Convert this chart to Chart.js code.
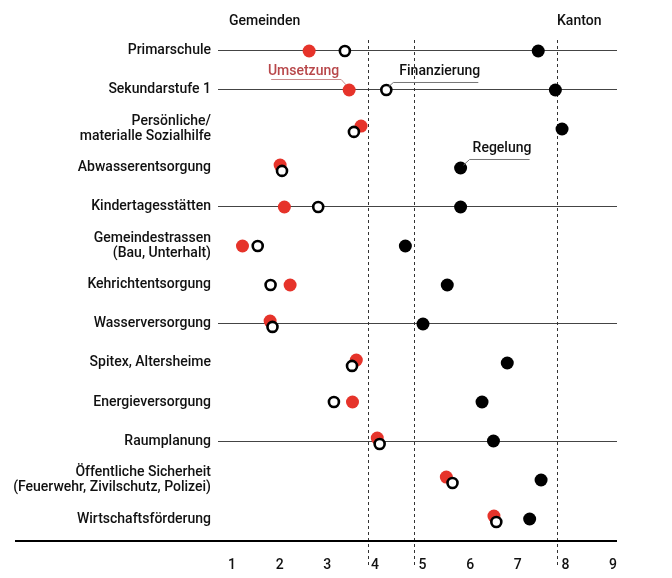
<!DOCTYPE html>
<html>
<head>
<meta charset="utf-8">
<script src="https://cdn.jsdelivr.net/npm/chart.js@4"></script>
<style>
  html, body { margin: 0; padding: 0; background: #fff; }
  #wrap { width: 672px; height: 578px; }
</style>
</head>
<body>
<div id="wrap"><canvas id="chart"></canvas></div>
<script>
// rows, top to bottom
var categories = [
    'Primarschule',
    'Sekundarstufe 1',
    ['Persönliche/', 'materialle Sozialhilfe'],
    'Abwasserentsorgung',
    'Kindertagesstätten',
    ['Gemeindestrassen', '(Bau, Unterhalt)'],
    'Kehrichtentsorgung',
    'Wasserversorgung',
    'Spitex, Altersheime',
    'Energieversorgung',
    'Raumplanung',
    ['Öffentliche Sicherheit', '(Feuerwehr, Zivilschutz, Polizei)'],
    'Wirtschaftsförderung'
];
var linedRows = [0, 1, 4, 7, 10];

var umsetzung    = [2.62, 3.46, 3.71, 2.01, 2.10, 1.22, 2.22, 1.80, 3.61, 3.53, 4.05, 5.50, 6.50];
var finanzierung = [3.37, 4.24, 3.56, 2.05, 2.81, 1.54, 1.81, 1.85, 3.52, 3.14, 4.10, 5.63, 6.55];
var regelung     = [7.43, 7.79, 7.93, 5.80, 5.80, 4.64, 5.52, 5.01, 6.78, 6.25, 6.49, 7.49, 7.25];

var xTicks = [1, 2, 3, 4, 5, 6, 7, 8, 9];
var refLines = [3.85, 4.82, 7.83];

var FONT = 'Roboto, "DejaVu Sans", sans-serif';
var RED = '#e6332a';

// red and hollow dots that sit on top of each other get nudged apart a little
function points(values, other, dir) {
    return values.map(function (v, i) {
        var y = i;
        if (other && Math.abs(v - other[i]) < 0.3) y = i + dir * 0.075;
        return { x: v, y: y };
    });
}

var decorations = {
    id: 'decorations',
    beforeDatasetsDraw: function (chart) {
        var c = chart.ctx, xs = chart.scales.x;
        c.save();
        c.strokeStyle = '#333';
        c.lineWidth = 1;
        c.setLineDash([3, 3]);
        refLines.forEach(function (v) {
            var px = Math.round(xs.getPixelForValue(v)) + 0.5;
            c.beginPath();
            c.moveTo(px, 40);
            c.lineTo(px, 566);
            c.stroke();
        });
        c.setLineDash([]);
        c.strokeStyle = '#000';
        c.lineWidth = 2;
        c.beginPath();
        c.moveTo(15, chart.chartArea.bottom);
        c.lineTo(chart.chartArea.right, chart.chartArea.bottom);
        c.stroke();
        c.restore();
    },
    afterDatasetsDraw: function (chart) {
        var c = chart.ctx, xs = chart.scales.x, ys = chart.scales.y;
        c.save();
        c.font = '500 14px ' + FONT;
        c.textBaseline = 'middle';
        c.fillStyle = '#111';
        c.textAlign = 'left';
        c.fillText('Gemeinden', 229, 21);
        c.fillText('Kanton', 557, 21);

        // Umsetzung -> red dot of Sekundarstufe 1
        var px = xs.getPixelForValue(umsetzung[1]), py = ys.getPixelForValue(1);
        c.fillStyle = '#b8474a';
        c.textAlign = 'right';
        c.fillText('Umsetzung', px - 10, py - 18);
        c.strokeStyle = '#c98a8a';
        c.lineWidth = 1;
        c.beginPath();
        c.moveTo(px - 78, py - 10.5);
        c.lineTo(px - 8, py - 10.5);
        c.lineTo(px - 3, py - 5);
        c.stroke();

        // Finanzierung -> hollow dot of Sekundarstufe 1
        px = xs.getPixelForValue(finanzierung[1]);
        c.fillStyle = '#111';
        c.textAlign = 'left';
        c.fillText('Finanzierung', px + 13, py - 18);
        c.strokeStyle = '#777';
        c.beginPath();
        c.moveTo(px + 92, py - 7.5);
        c.lineTo(px + 7, py - 7.5);
        c.lineTo(px + 2, py - 3);
        c.stroke();

        // Regelung -> black dot of Abwasserentsorgung
        px = xs.getPixelForValue(regelung[3]);
        py = ys.getPixelForValue(3);
        c.fillText('Regelung', px + 12, py - 19);
        c.beginPath();
        c.moveTo(px + 69, py - 8.5);
        c.lineTo(px + 9, py - 8.5);
        c.lineTo(px + 3, py - 3);
        c.stroke();
        c.restore();
    }
};

var ctx = document.getElementById('chart').getContext('2d');
var chart = new Chart(ctx, {
    type: 'scatter',
    data: {
        datasets: [{
            label: 'Finanzierung',
            data: points(finanzierung, umsetzung, 1),
            pointRadius: 5,
            pointBorderWidth: 2.6,
            pointBackgroundColor: '#fff',
            pointBorderColor: '#000'
        }, {
            label: 'Umsetzung',
            data: points(umsetzung, finanzierung, -1),
            pointRadius: 6.5,
            pointBorderWidth: 0,
            pointBackgroundColor: RED,
            pointBorderColor: RED
        }, {
            label: 'Regelung',
            data: points(regelung),
            pointRadius: 6.5,
            pointBorderWidth: 0,
            pointBackgroundColor: '#000',
            pointBorderColor: '#000'
        }]
    },
    options: {
        responsive: true,
        maintainAspectRatio: false,
        animation: false,
        layout: { padding: { top: 35, right: 55, bottom: 0, left: 0 } },
        plugins: {
            legend: { display: false },
            tooltip: { enabled: false }
        },
        scales: {
            x: {
                type: 'linear',
                min: 0.706,
                max: 9.084,
                afterBuildTicks: function (s) { s.ticks = xTicks.map(function (v) { return { value: v }; }); },
                afterFit: function (s) { s.height = 37; },
                grid: { display: false },
                border: { display: false },
                ticks: { padding: 8, color: '#111', font: { family: FONT, size: 14, weight: '500' }, maxRotation: 0 }
            },
            y: {
                type: 'linear',
                reverse: true,
                min: -0.41,
                max: 12.564,
                afterBuildTicks: function (s) { s.ticks = categories.map(function (c, i) { return { value: i }; }); },
                afterFit: function (s) { s.width = 218; },
                grid: {
                    drawTicks: false,
                    lineWidth: 1,
                    color: function (c) {
                        return c.tick && linedRows.indexOf(c.tick.value) >= 0 ? '#444' : 'rgba(0,0,0,0)';
                    }
                },
                border: { display: false },
                ticks: {
                    padding: 7,
                    color: '#111',
                    font: { family: FONT, size: 14, weight: '500', lineHeight: '15px' },
                    callback: function (v) { return categories[v]; }
                }
            }
        }
    },
    plugins: [decorations]
});
</script>
</body>
</html>
